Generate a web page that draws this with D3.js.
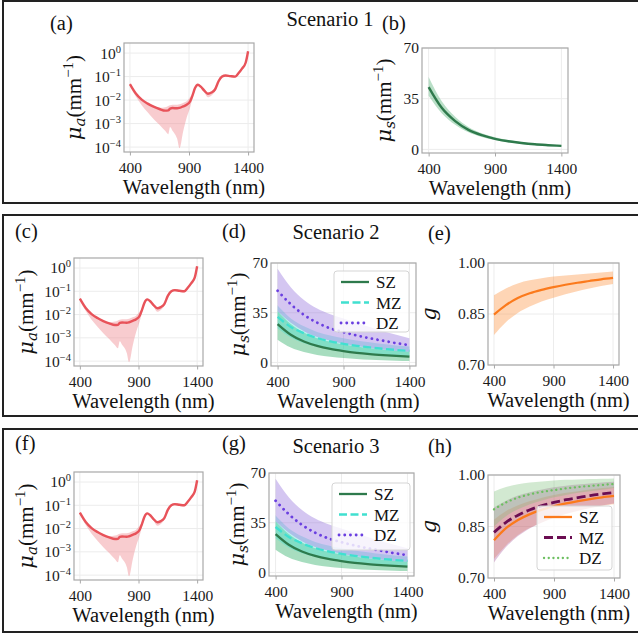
<!DOCTYPE html>
<html>
<head>
<meta charset="utf-8">
<script src="https://cdn.jsdelivr.net/npm/d3@7"></script>
<style>
body { margin: 0; background: #fff; }
</style>
</head>
<body>
<div id="canvas"></div>
<script>
// absorption (same estimate in all three scenarios), mm^-1
const wlMua = [400, 450, 500, 550, 600, 650, 700, 725, 740, 760, 800, 820, 850, 880, 910, 930,
               950, 975, 1000, 1030, 1060, 1090, 1120, 1150, 1180, 1210, 1250, 1290, 1320, 1350, 1380, 1400];
const muaMean = [0.0479, 0.0191, 0.0105, 0.00708, 0.00525, 0.00417, 0.00355, 0.00363, 0.00437, 0.00457,
                 0.00447, 0.00468, 0.00537, 0.00631, 0.00891, 0.0158, 0.0316, 0.0447, 0.0372, 0.0251,
                 0.0186, 0.0209, 0.0282, 0.0631, 0.100, 0.112, 0.105, 0.100, 0.141, 0.224, 0.398, 1.20];
const muaLow = [0.0398, 0.0141, 0.00603, 0.00302, 0.00158, 0.000891, 0.000479, 0.000355, 0.000708, 0.000501,
                0.000224, 0.0000891, 0.000447, 0.00178, 0.00501, 0.0120, 0.0263, 0.0398, 0.0331, 0.0209,
                0.0132, 0.0158, 0.0240, 0.0550, 0.0891, 0.100, 0.0933, 0.0891, 0.126, 0.200, 0.355, 1.10];
const muaHigh = [0.0525, 0.0209, 0.0115, 0.00776, 0.00575, 0.00468, 0.00501, 0.00562, 0.00603, 0.00631,
                 0.00631, 0.00661, 0.00759, 0.00891, 0.0135, 0.0191, 0.0347, 0.0479, 0.0398, 0.0275,
                 0.0209, 0.0229, 0.0302, 0.0676, 0.107, 0.120, 0.112, 0.107, 0.151, 0.240, 0.427, 1.29];

// scattering and anisotropy, sampled every 100 nm
const wl = [400, 500, 600, 700, 800, 900, 1000, 1100, 1200, 1300, 1400];

const musS1 = [43, 28.5, 19.5, 13.5, 9.8, 7.3, 5.6, 4.4, 3.5, 2.9, 2.4];
const musS1Low = [37, 24.8, 17, 11.8, 8.6, 6.4, 4.9, 3.8, 3.0, 2.5, 2.0];
const musS1High = [50, 33, 22.5, 15.5, 11.2, 8.3, 6.4, 5.0, 4.0, 3.3, 2.8];

const musSZ = [27, 19.5, 14.7, 11.6, 9.5, 8.0, 6.8, 5.9, 5.2, 4.6, 4.1];
const musSZLow = [16, 10.5, 7.3, 5.3, 4.0, 3.1, 2.4, 1.9, 1.5, 1.2, 1.0];
const musSZHigh = [36, 27, 21, 17, 14.5, 12.6, 11.2, 10, 9, 8.2, 7.5];
const musMZ = [32, 25, 20.5, 17.2, 14.8, 13.1, 11.7, 10.6, 9.6, 8.8, 8.2];
const musMZLow = [24, 17.5, 13.5, 11, 9.3, 8, 7, 6.2, 5.5, 5, 4.6];
const musMZHigh = [40, 31, 25.5, 21.5, 19, 17, 15.5, 14.2, 13, 12, 11.3];
const musDZ = [50.5, 41, 33.5, 28, 24, 21.3, 19, 17, 15.3, 13.6, 12.2];
const musDZLow = [36, 28, 22, 18, 15.3, 13.2, 11.6, 10.2, 9.2, 8.3, 7.6];
const musDZHigh = [66, 53, 44, 38, 34, 31, 28, 25, 22, 19.5, 17];

const gS2 = [0.848, 0.876, 0.897, 0.911, 0.921, 0.929, 0.936, 0.942, 0.947, 0.952, 0.956];
const gS2Low = [0.788, 0.826, 0.853, 0.872, 0.887, 0.898, 0.908, 0.917, 0.925, 0.932, 0.938];
const gS2High = [0.905, 0.925, 0.940, 0.949, 0.955, 0.960, 0.963, 0.966, 0.969, 0.972, 0.975];

const gSZ = [0.81, 0.845, 0.869, 0.886, 0.899, 0.909, 0.917, 0.924, 0.930, 0.935, 0.939];
const gSZLow = [0.755, 0.795, 0.825, 0.846, 0.862, 0.875, 0.886, 0.895, 0.903, 0.910, 0.915];
const gSZHigh = [0.87, 0.895, 0.912, 0.924, 0.934, 0.942, 0.948, 0.953, 0.958, 0.962, 0.965];
const gMZ = [0.833, 0.862, 0.883, 0.899, 0.911, 0.920, 0.928, 0.934, 0.940, 0.945, 0.949];
const gMZLow = [0.745, 0.79, 0.822, 0.845, 0.862, 0.876, 0.887, 0.896, 0.904, 0.911, 0.917];
const gMZHigh = [0.905, 0.925, 0.940, 0.950, 0.958, 0.964, 0.969, 0.972, 0.975, 0.978, 0.98];
const gDZ = [0.90, 0.92, 0.934, 0.944, 0.951, 0.956, 0.961, 0.965, 0.968, 0.971, 0.974];
const gDZLow = [0.85, 0.88, 0.90, 0.915, 0.926, 0.935, 0.942, 0.948, 0.953, 0.957, 0.962];
const gDZHigh = [0.952, 0.965, 0.973, 0.978, 0.981, 0.984, 0.986, 0.987, 0.988, 0.989, 0.99];

const zones = ["SZ", "MZ", "DZ"];
const xTicks = [400, 900, 1400];
const muaTicks = [1, 0.1, 0.01, 0.001, 0.0001];
const musTicks = [0, 35, 70];
const gTicks = [0.70, 0.85, 1.00];

const SERIF = "Liberation Serif";
const MATH = "DejaVu Serif";

const svg = d3.select("#canvas").append("svg")
    .attr("width", 638).attr("height", 636)

// scenario frames
const frames = [[1, 203], [215, 416], [429, 632]]
svg.selectAll("rect.frame").data(frames).enter().append("rect")
    .attr("x", 3).attr("y", d => d[0])
    .attr("width", 640).attr("height", d => d[1] - d[0])
    .attr("fill", "none").attr("stroke", "#222").attr("stroke-width", 2)

// dot = round-capped near-zero dashes
function mk(wls, mean, low, high, color, band, op, dash, width, dot) {
    return {pts: wls.map((w, i) => ({w: w, m: mean[i], lo: low[i], hi: high[i]})),
            color: color, band: band, op: op, dash: dash, width: width || 2.2, dot: !!dot}
}

const muaSeries = [mk(wlMua, muaMean, muaLow, muaHigh, "#e8535a", "#ef8f94", 0.45, null, 2.4)]
const s1Series = [mk(wl, musS1, musS1Low, musS1High, "#2e7a4c", "#4fae74", 0.4, null, 2.4)]
const musZones = [
    mk(wl, musSZ, musSZLow, musSZHigh, "#2e7a4c", "#3cb371", 0.45, null, 2.3),
    mk(wl, musMZ, musMZLow, musMZHigh, "#40e0d0", "#40e0d0", 0.35, "8,3.5", 2.3),
    mk(wl, musDZ, musDZLow, musDZHigh, "#6a3fe0", "#9370db", 0.4, "0.1,5.6", 2.8, true)
]
const gS2Series = [mk(wl, gS2, gS2Low, gS2High, "#fb7a1c", "#fca25a", 0.45, null)]
const gZones = [
    mk(wl, gSZ, gSZLow, gSZHigh, "#fb7a1c", "#fca25a", 0.35, null, 2.3),
    mk(wl, gMZ, gMZLow, gMZHigh, "#6b0d52", "#9c3a8a", 0.3, "9,4", 2.8),
    mk(wl, gDZ, gDZLow, gDZHigh, "#6cbf60", "#7fbf7b", 0.35, "0.1,4.6", 2.3, true)
]

function font(sel, fam, size) {
    return sel.style("font-family", fam).style("font-size", size + "px")
}

function sup(sel, base, exp) {
    sel.text(null)
    sel.append("tspan").text(base)
    font(sel.append("tspan").attr("dy", -6), SERIF, 10.5).text(exp)
}

function stroke(sel) {
    return sel.attr("fill", "none").attr("stroke", d => d.color).attr("stroke-width", d => d.width)
        .attr("stroke-dasharray", d => d.dash).attr("stroke-linecap", d => d.dot ? "round" : "butt")
}

function drawPanel(p) {
    const g = svg.append("g")
    const x = d3.scaleLinear().domain([350, 1450]).range([p.x0, p.x1])
    let y, yTicks
    if (p.type == "mua") {
        y = d3.scaleLog().domain([Math.pow(10, -4.21), Math.pow(10, 0.43)]).range([p.y1, p.y0])
        yTicks = muaTicks
    } else if (p.type == "mus") {
        y = d3.scaleLinear().domain([-2.5, 70]).range([p.y1, p.y0])
        yTicks = musTicks
    } else {
        y = d3.scaleLinear().domain([0.70, 1.00]).range([p.y1, p.y0])
        yTicks = gTicks
    }

    g.selectAll(".gx").data(xTicks).enter().append("line")
        .attr("x1", d => x(d)).attr("x2", d => x(d)).attr("y1", p.y0).attr("y2", p.y1)
        .attr("stroke", "#ececec").attr("stroke-width", 1)
    g.selectAll(".gy").data(yTicks).enter().append("line")
        .attr("y1", d => y(d)).attr("y2", d => y(d)).attr("x1", p.x0).attr("x2", p.x1)
        .attr("stroke", "#ececec").attr("stroke-width", 1)

    const area = d3.area().x(d => x(d.w)).y0(d => y(d.lo)).y1(d => y(d.hi)).curve(d3.curveMonotoneX)
    const line = d3.line().x(d => x(d.w)).y(d => y(d.m)).curve(d3.curveMonotoneX)

    p.series.forEach(s => {
        g.append("path").datum(s.pts).attr("d", area)
            .attr("fill", s.band).attr("fill-opacity", s.op).attr("stroke", "none")
    })
    g.selectAll(".mean").data(p.series).enter().append("path")
        .attr("d", s => line(s.pts)).call(stroke)

    g.append("rect").attr("x", p.x0).attr("y", p.y0)
        .attr("width", p.x1 - p.x0).attr("height", p.y1 - p.y0)
        .attr("fill", "none").attr("stroke", "#a8a8a8").attr("stroke-width", 1.2)

    const ax = g.append("g").attr("transform", `translate(0,${p.y1})`)
        .call(d3.axisBottom(x).tickValues(xTicks).tickSize(3.5).tickPadding(6).tickFormat(d3.format("d")))
    const ay = g.append("g").attr("transform", `translate(${p.x0},0)`)
        .call(d3.axisLeft(y).tickValues(yTicks).tickSize(0).tickPadding(3)
            .tickFormat(p.type == "g" ? d3.format(".2f") : d3.format("d")))
    ;[ax, ay].forEach(a => {
        a.attr("font-family", null).attr("font-size", null)
        a.select(".domain").remove()
        a.selectAll("line").attr("stroke", "#a8a8a8")
        font(a.selectAll("text"), SERIF, 15.5).attr("fill", "#1a1a1a")
    })
    if (p.type == "mua") {
        ay.selectAll(".tick text").each(function(d) {
            const e = Math.round(Math.log10(d))
            sup(d3.select(this), "10", e < 0 ? "\u2212" + (-e) : String(e))
        })
    }

    // axis titles
    font(g.append("text"), SERIF, 20.5).attr("x", (p.x0 + p.x1) / 2 + 5).attr("y", p.y1 + 42)
        .attr("text-anchor", "middle").attr("fill", "#111").text("Wavelength (nm)")

    const yl = font(g.append("text"), SERIF, 21)
        .attr("transform", `translate(${p.ylx},${(p.y0 + p.y1) / 2}) rotate(-90)`)
        .attr("text-anchor", "middle").attr("fill", "#111")
    if (p.type == "g") {
        font(yl.append("tspan"), MATH, 21).style("font-style", "italic").text("g")
    } else {
        font(yl.append("tspan"), MATH, 21).style("font-style", "italic").text("\u03bc")
        font(yl.append("tspan"), MATH, 15).style("font-style", "italic")
            .attr("dy", 4).text(p.type == "mua" ? "a" : "s")
        yl.append("tspan").attr("dy", -4).text("(mm")
        font(yl.append("tspan"), SERIF, 15).attr("dy", -8).text("\u22121")
        yl.append("tspan").attr("dy", 8).text(")")
    }

    // panel letter and scenario title
    font(g.append("text"), SERIF, 20.5).attr("x", p.lab[0]).attr("y", p.lab[1])
        .attr("fill", "#111").text(p.letter)
    if (p.title) {
        font(g.append("text"), SERIF, 20.5).attr("x", p.title[0]).attr("y", p.title[1])
            .attr("text-anchor", "middle").attr("fill", "#111").text(p.title[2])
    }

    if (p.legend) {
        const L = p.legend
        g.append("rect").attr("x", L.x).attr("y", L.y).attr("width", L.w).attr("height", L.h)
            .attr("rx", 3).attr("fill", "#fff").attr("fill-opacity", 0.8)
            .attr("stroke", "#d5d5d5").attr("stroke-width", 1)
        const it = g.selectAll(".leg").data(p.series).enter().append("g")
            .attr("transform", (d, i) => `translate(${L.x + 6},${L.y + 11 + i * 20.5})`)
        it.append("line").attr("x1", 1).attr("x2", 29).call(stroke)
        font(it.append("text"), SERIF, 17).attr("x", 36).attr("y", 6)
            .attr("fill", "#111").text((d, i) => zones[i])
    }
}

const panels = [
    {letter: "(a)", type: "mua", x0: 124, x1: 254, y0: 43, y1: 152, ylx: 81, lab: [50, 30],
     title: [330, 26, "Scenario 1"], series: muaSeries},
    {letter: "(b)", type: "mus", x0: 422, x1: 568, y0: 48, y1: 153, ylx: 391, lab: [382, 30],
     series: s1Series},
    {letter: "(c)", type: "mua", x0: 74, x1: 203, y0: 258, y1: 366, ylx: 33, lab: [15, 238],
     series: muaSeries},
    {letter: "(d)", type: "mus", x0: 271, x1: 416, y0: 263, y1: 366, ylx: 245, lab: [222, 238],
     title: [336, 239, "Scenario 2"], series: musZones, legend: {x: 334, y: 271, w: 75, h: 61}},
    {letter: "(e)", type: "g", x0: 488, x1: 619, y0: 263, y1: 365, ylx: 436, lab: [428, 240],
     series: gS2Series},
    {letter: "(f)", type: "mua", x0: 74, x1: 203, y0: 472, y1: 580, ylx: 33, lab: [15, 450],
     series: muaSeries},
    {letter: "(g)", type: "mus", x0: 269, x1: 414, y0: 473, y1: 576, ylx: 244, lab: [222, 450],
     title: [336, 453, "Scenario 3"], series: musZones, legend: {x: 332, y: 483, w: 78, h: 67}},
    {letter: "(h)", type: "g", x0: 488, x1: 620, y0: 475, y1: 578, ylx: 436, lab: [428, 453],
     series: gZones, legend: {x: 537, y: 506, w: 75, h: 64}}
]

panels.forEach(drawPanel)
</script>
</body>
</html>
